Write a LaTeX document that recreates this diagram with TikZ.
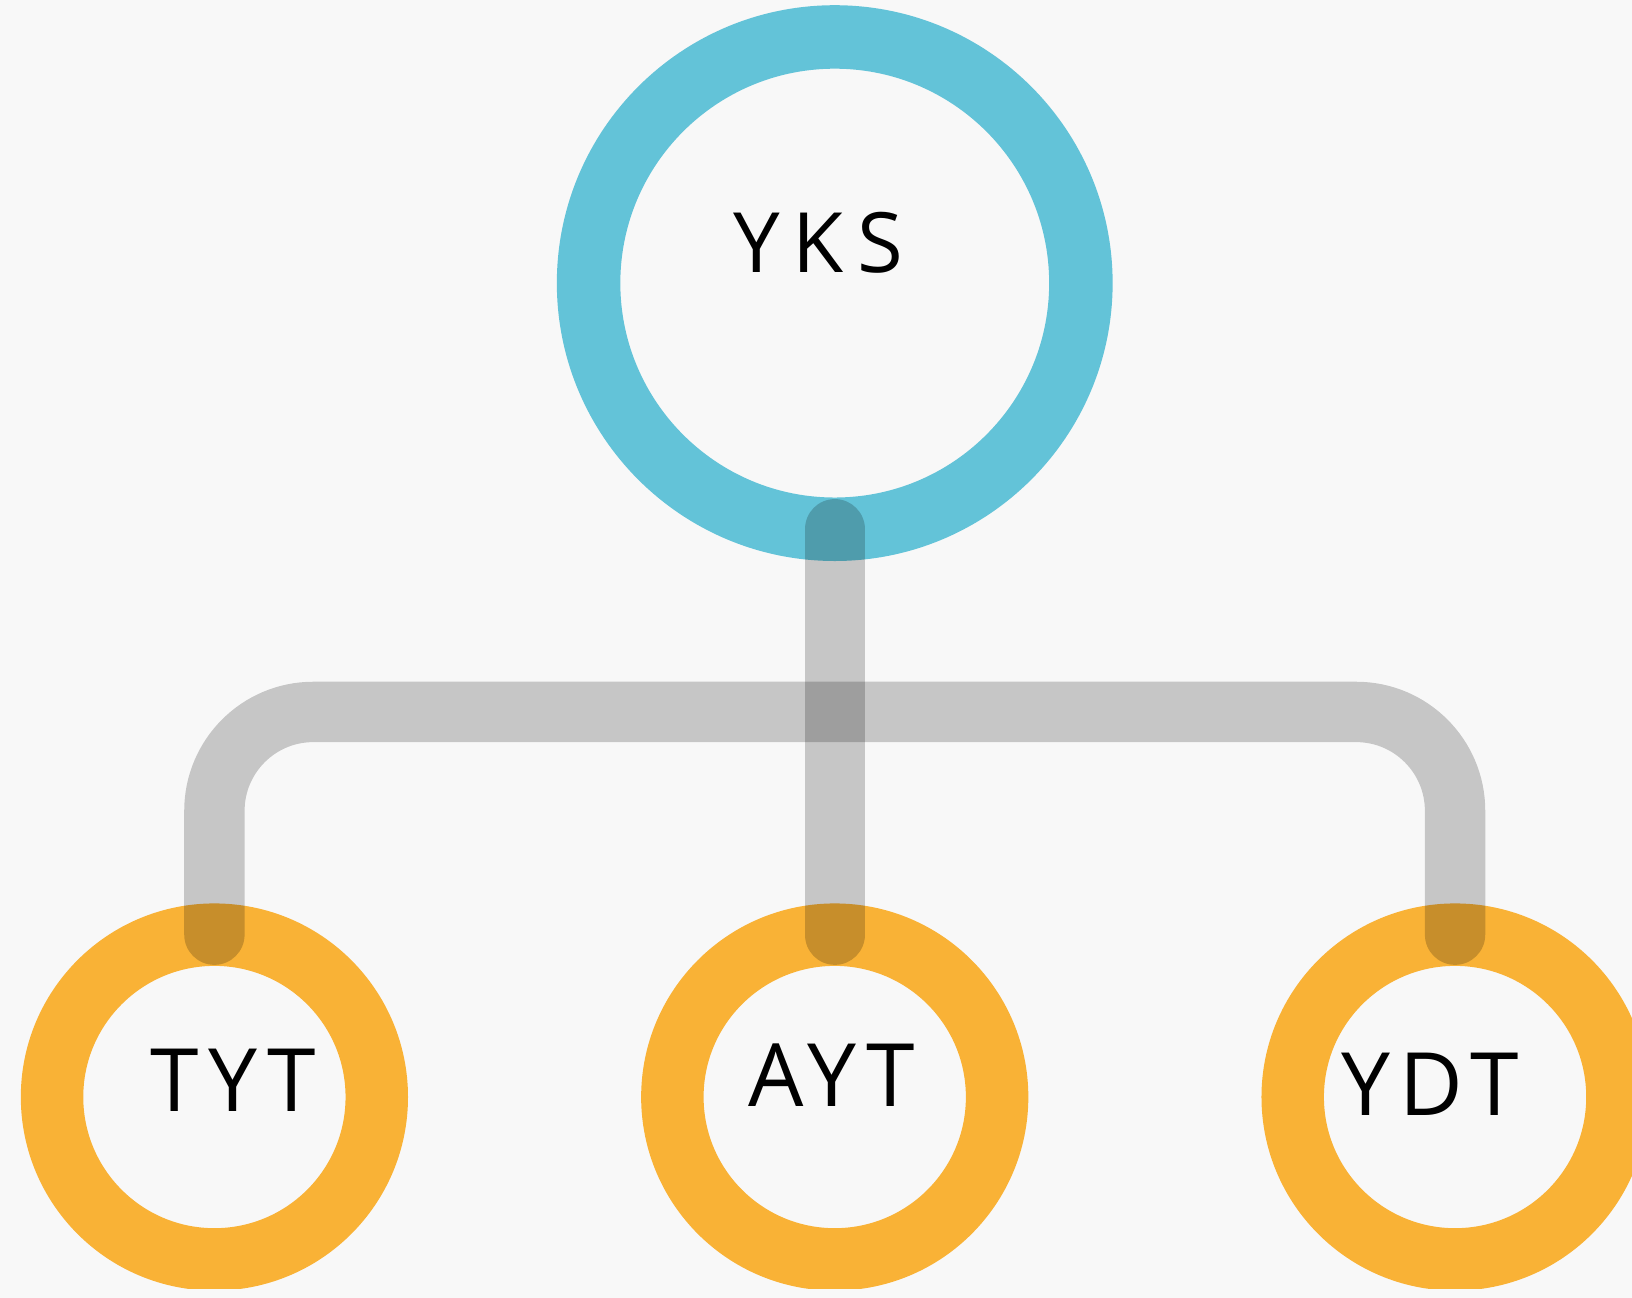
\documentclass[tikz,border=0pt]{standalone}
\usepackage{fontspec}
\setmainfont{Open Sans}
\definecolor{bgc}{RGB}{248,248,248}
\definecolor{ringblue}{RGB}{99,195,216}
\definecolor{ringorange}{RGB}{249,178,54}
\begin{document}
\begin{tikzpicture}[x=0.5pt,y=-0.5pt,
  ringtop/.style={circle,draw=ringblue,line width=30.5pt,minimum size=236.5pt,inner sep=0pt,outer sep=0pt},
  ringbot/.style={circle,draw=ringorange,line width=30pt,minimum size=156pt,inner sep=0pt,outer sep=0pt},
  conn/.style={draw=black,draw opacity=0.2,line width=29pt,line cap=round},
  lbl/.style={anchor=base,inner sep=0pt,font=\fontsize{42}{50}\selectfont\addfontfeature{LetterSpace=11}},
  lbltop/.style={anchor=base,inner sep=0pt,font=\fontsize{40}{50}\selectfont\addfontfeature{LetterSpace=16}}]
\fill[bgc] (0,0) rectangle (1568,1247);
\useasboundingbox (0,0) rectangle (1568,1247);
\begin{scope}
\clip (0,0) rectangle (1568,1238);
\node[ringtop] (yks) at (802,272) {};
\node[ringbot] (tyt) at (206,1054) {};
\node[ringbot] (ayt) at (802,1054) {};
\node[ringbot] (ydt) at (1398,1054) {};
\coordinate (bar) at (802,684);
\draw[conn,rounded corners=47.5pt] (tyt.north) -- (tyt.north |- bar) -- (ydt.north |- bar) -- (ydt.north);
\draw[conn] (yks.south) -- (ayt.north);
\end{scope}
\node[lbltop] (tyks) at (786,262) {YKS};
\node[lbl] (ttyt) at (224,1068) {TYT};
\node[lbl] (tayt) at (799,1063) {AYT};
\node[lbl] (tydt) at (1374,1072) {YDT};
\end{tikzpicture}
\end{document}
